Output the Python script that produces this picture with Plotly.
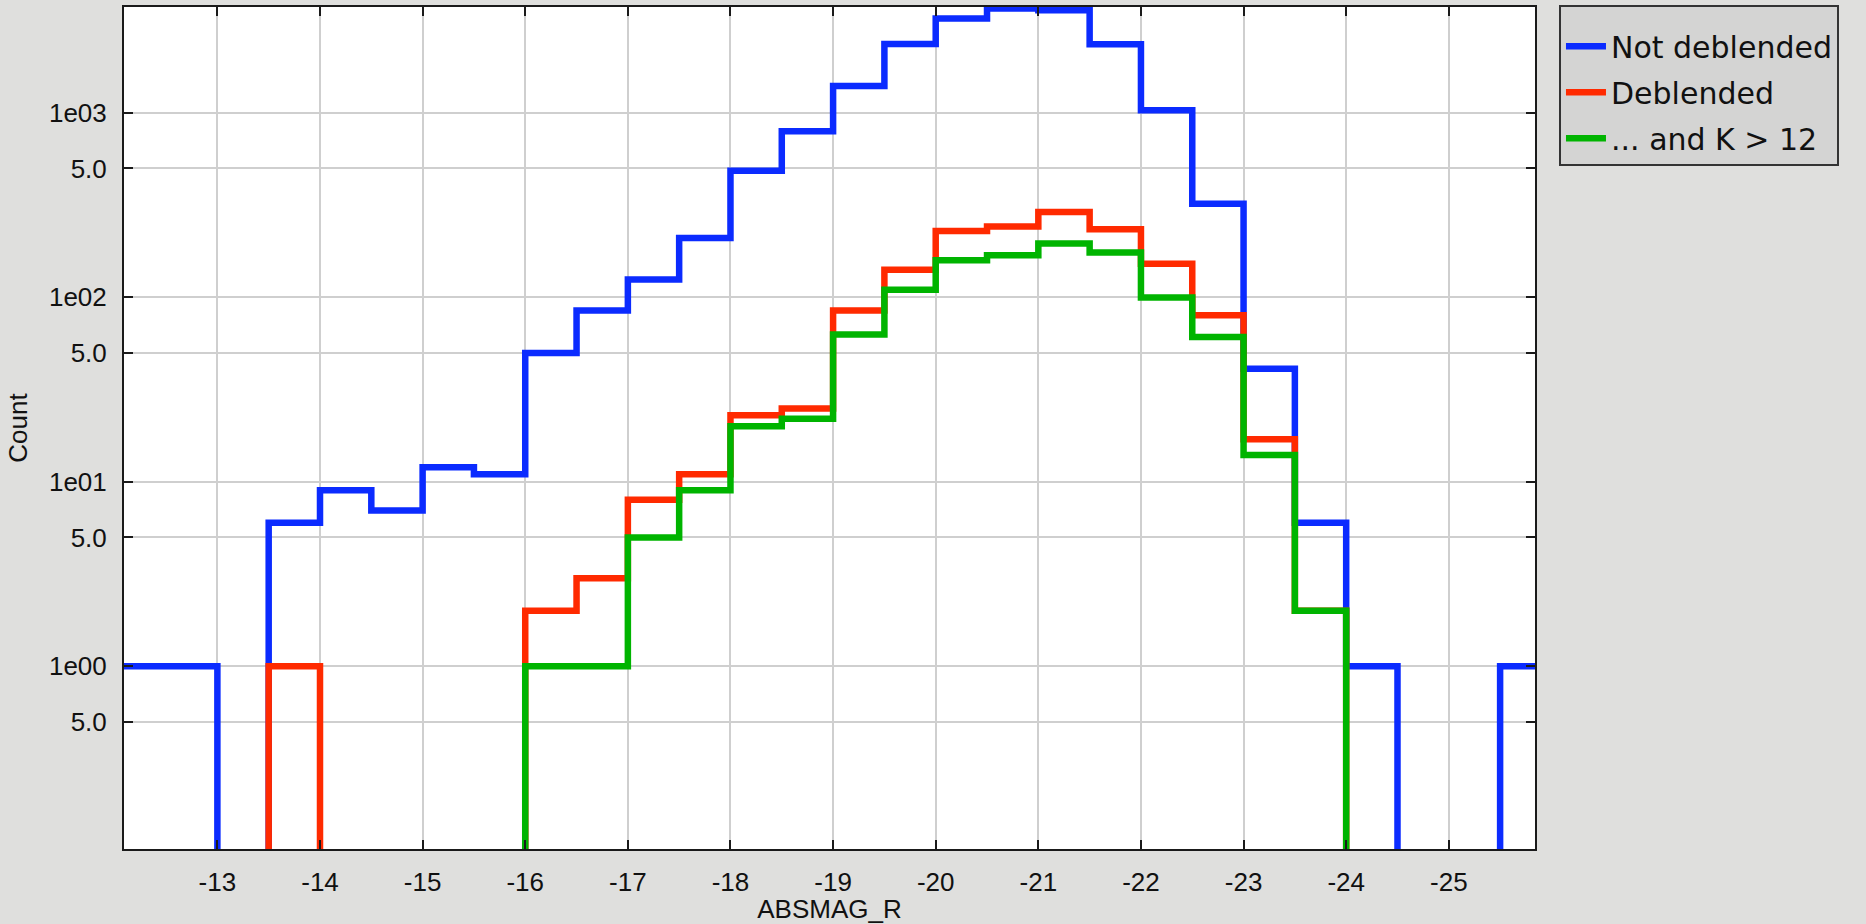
import plotly.graph_objects as go

# Bin left edges (ABSMAG_R), bin width 0.5, histogram counts
bin_edges = [-11.5 - 0.5 * i for i in range(30)]  # -11.5 ... -26.0
not_deblended = [1, 1, 1, 0, 6, 9, 7, 12, 11, 50, 85, 125, 210, 485, 795, 1400,
                 2360, 3250, 3680, 3600, 2355, 1035, 322, 41, 6, 1, 0, 0, 1]
deblended = [0, 0, 0, 0, 1, 0, 0, 0, 0, 2, 3, 8, 11, 23, 25, 85,
             141, 229, 242, 290, 234, 152, 80, 17, 2, 0, 0, 0, 0]
deblended_k12 = [0, 0, 0, 0, 0, 0, 0, 0, 0, 1, 1, 5, 9, 20, 22, 63,
                 110, 159, 169, 196, 175, 100, 61, 14, 2, 0, 0, 0, 0]

x_ticks = [-13, -14, -15, -16, -17, -18, -19, -20, -21, -22, -23, -24, -25]
y_tickvals = [0.5, 1, 5, 10, 50, 100, 500, 1000]
y_ticktext = ["5.0", "1e00", "5.0", "1e01", "5.0", "1e02", "5.0", "1e03"]

series = [
    ("Not deblended", not_deblended, "#0b2bff"),
    ("Deblended", deblended, "#ff2a00"),
    ("... and K > 12", deblended_k12, "#00b400"),
]

FLOOR = 0.01  # zero counts drop below the visible log range


def step_y(counts):
    ys = [c if c > 0 else FLOOR for c in counts]
    return ys + [ys[-1]]


fig = go.Figure()
for name, counts, color in series:
    fig.add_trace(go.Scatter(
        x=bin_edges, y=step_y(counts), mode="lines", name=name,
        legendgroup=name,
        line=dict(color=color, width=6.5, shape="hv"),
    ))

axis_common = dict(
    showline=True, mirror="allticks", linecolor="#1a1a1a", linewidth=2,
    ticks="inside", ticklen=9, tickwidth=2, tickcolor="#1a1a1a",
    showgrid=True, gridcolor="#cfcfcf", gridwidth=2, zeroline=False,
    automargin=False,
    tickfont=dict(family="Liberation Sans, Arial, sans-serif", size=26, color="#111"),
)

fig.update_layout(
    width=1866, height=924,
    margin=dict(l=124, r=331, t=6, b=75),
    paper_bgcolor="#dfdfdd",
    plot_bgcolor="#ffffff",
    showlegend=True,
    legend=dict(
        x=1.017, y=1.001, xanchor="left", yanchor="top",
        bgcolor="rgba(205,205,205,0.6)", bordercolor="#333", borderwidth=2,
        font=dict(family="DejaVu Sans, sans-serif", size=30, color="#111"),
        itemwidth=40, tracegroupgap=4,
        title=dict(text=" ", font=dict(size=10)),
        entrywidthmode="pixels", entrywidth=284,
    ),
    xaxis=dict(
        axis_common,
        range=[-12.09, -25.84],
        tickmode="array", tickvals=x_ticks, ticktext=[str(v) for v in x_ticks],
        ticklabelstandoff=9,
        title=dict(text="ABSMAG_R", standoff=12,
                   font=dict(family="Liberation Sans, Arial, sans-serif", size=26, color="#111")),
    ),
    yaxis=dict(
        axis_common,
        type="log", range=[-0.99, 3.574],
        tickmode="array", tickvals=y_tickvals, ticktext=y_ticktext,
        ticklabelstandoff=10,
        title=dict(text="Count", standoff=14,
                   font=dict(family="Liberation Sans, Arial, sans-serif", size=26, color="#111")),
    ),
)

fig.write_html("out.html")
